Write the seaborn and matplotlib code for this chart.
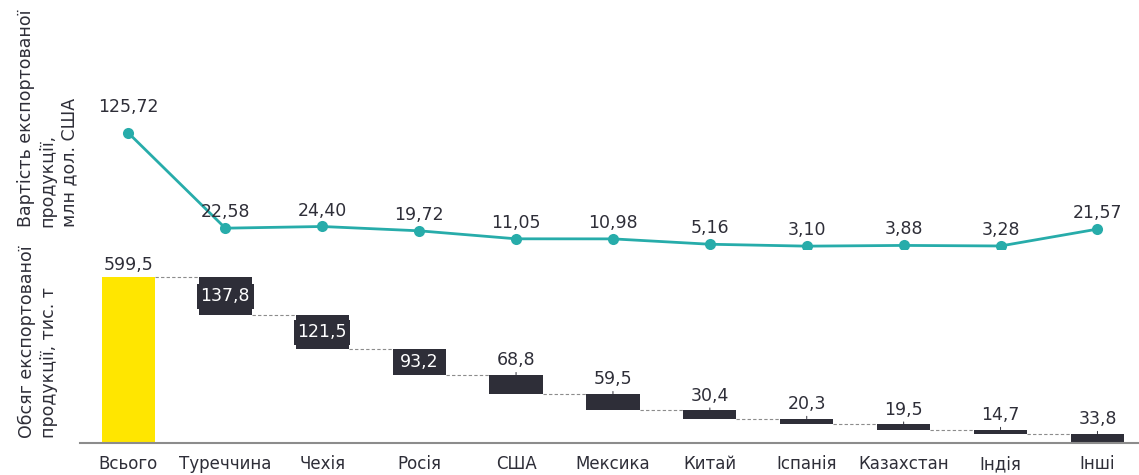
import numpy as np
import pandas as pd
import matplotlib
matplotlib.use("Agg")
import matplotlib.pyplot as plt
import seaborn as sns

# data
countries = ["Всього", "Туреччина", "Чехія", "Росія", "США", "Мексика",
             "Китай", "Іспанія", "Казахстан", "Індія", "Інші"]
value_usd = [125.72, 22.58, 24.40, 19.72, 11.05, 10.98, 5.16, 3.10, 3.88, 3.28, 21.57]
volume_t = [599.5, 137.8, 121.5, 93.2, 68.8, 59.5, 30.4, 20.3, 19.5, 14.7, 33.8]
inside_labels = ["Туреччина", "Чехія", "Росія"]

DARK = "#2E2E38"
TEAL = "#27ACAA"
YELLOW = "#FFE600"
GREY = "#8C8C8C"

sns.set_theme(style="white")
plt.rcParams['font.family'] = ['DejaVu Sans']

df = pd.DataFrame({"country": countries, "value": value_usd, "volume": volume_t})
df["x"] = np.arange(len(df))

# waterfall: first bar is the total, the rest step down from it
tops = [volume_t[0]]
bottoms = [0.0]
level = volume_t[0]
for v in volume_t[1:]:
    tops.append(level)
    level = level - v
    bottoms.append(max(level, 0.0))
df["top"] = tops
df["bottom"] = bottoms

W, H = 1139, 475
fig = plt.figure(figsize=(W / 100, H / 100), dpi=100)

left = 80 / W
width = (W - 80) / W
xlim = (-0.5, -0.5 + (W - 80) / 96.9)
axw = W - 80

# ---- top panel: export value ----
ax_top = fig.add_axes([left, (H - 249) / H, width, 249 / H])
sns.lineplot(data=df, x="x", y="value", ax=ax_top, color=TEAL, linewidth=2.0,
             marker="o", markersize=8, markeredgewidth=0, markerfacecolor=TEAL)
for i, r in df.iterrows():
    off = 12 if i == 0 else 5
    ax_top.annotate(f"{r['value']:.2f}".replace(".", ","), (r["x"], r["value"]),
                    xytext=(0, off), textcoords="offset points", ha="center", va="bottom",
                    fontsize=12.5, color=DARK)
ax_top.set_xlim(*xlim)
ax_top.set_ylim(0, 270)
ax_top.set_xticks([])
ax_top.set_yticks([])
ax_top.set_xlabel("")
ax_top.set_ylabel("Вартість експортованої\nпродукції,\nмлн дол. США", fontsize=12.5,
                  color=DARK, linespacing=1.25, multialignment="left")
ax_top.yaxis.set_label_coords(-2 / axw, 0.526)
sns.despine(ax=ax_top, left=True, bottom=True)

# ---- bottom panel: export volume waterfall ----
ax_bot = fig.add_axes([left, (H - 443) / H, width, (443 - 255) / H])
bar_w = 0.55
colors = [YELLOW] + [DARK] * (len(df) - 1)
ax_bot.bar(df["x"], df["top"] - df["bottom"], bottom=df["bottom"], width=bar_w,
           color=colors, linewidth=0)

# dashed connectors between consecutive bars
for i in range(len(df) - 1):
    y = df["bottom"].iloc[i] if i > 0 else df["top"].iloc[0]
    ax_bot.plot([df["x"].iloc[i] + bar_w / 2, df["x"].iloc[i + 1] - bar_w / 2], [y, y],
                color=GREY, linewidth=0.8, linestyle=(0, (3, 2)))

for _, r in df.iterrows():
    txt = f"{r['volume']:.1f}".replace(".", ",")
    if r["country"] in inside_labels:
        ax_bot.text(r["x"], (r["top"] + r["bottom"]) / 2, txt, ha="center", va="center",
                    fontsize=12.5, color="white",
                    bbox=dict(boxstyle="square,pad=0.2", fc=DARK, ec="none"))
    elif r["country"] == countries[0]:
        ax_bot.annotate(txt, (r["x"], r["top"]), xytext=(0, 2), textcoords="offset points",
                        ha="center", va="bottom", fontsize=12.5, color=DARK)
    else:
        ax_bot.annotate(txt, (r["x"], r["top"]), xytext=(0, 4), textcoords="offset points",
                        ha="center", va="bottom", fontsize=12.5, color=DARK,
                        arrowprops=dict(arrowstyle="-", color=DARK, lw=0.7,
                                        shrinkA=0, shrinkB=0))

ax_bot.set_xlim(*xlim)
ax_bot.set_ylim(0, 680)
ax_bot.set_xticks(df["x"])
ax_bot.set_xticklabels(countries, fontsize=12, color=DARK, va="baseline")
ax_bot.tick_params(axis="x", length=0, pad=19)
ax_bot.set_yticks([])
ax_bot.set_xlabel("")
ax_bot.set_ylabel("Обсяг експортованої\nпродукції, тис. т", fontsize=12.5, color=DARK,
                  linespacing=1.25, multialignment="left")
ax_bot.yaxis.set_label_coords(-22 / axw, 0.537)
sns.despine(ax=ax_bot, left=True)
ax_bot.spines["bottom"].set_color(GREY)
ax_bot.spines["bottom"].set_linewidth(1.5)

fig.savefig("out.png", dpi=100)
